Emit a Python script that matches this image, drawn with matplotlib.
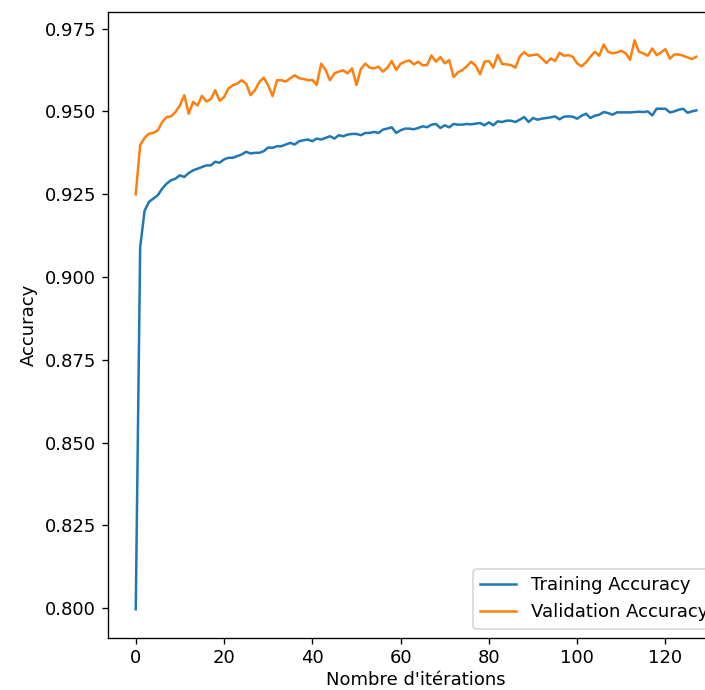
import matplotlib
matplotlib.use("Agg")
import matplotlib.pyplot as plt

plt.rcParams["font.size"] = 10.8

# accuracy per iteration
train_acc = [
    0.7997, 0.9090, 0.9200, 0.9227, 0.9237, 0.9247, 0.9267, 0.9282, 0.9292, 0.9297,
    0.9307, 0.9302, 0.9314, 0.9322, 0.9327, 0.9332, 0.9337, 0.9337, 0.9348, 0.9345,
    0.9355, 0.9360, 0.9360, 0.9365, 0.9370, 0.9378, 0.9373, 0.9375, 0.9375, 0.9380,
    0.9391, 0.9390, 0.9395, 0.9395, 0.9400, 0.9405, 0.9400, 0.9410, 0.9413, 0.9415,
    0.9410, 0.9418, 0.9415, 0.9420, 0.9425, 0.9418, 0.9428, 0.9425, 0.9430, 0.9432,
    0.9432, 0.9428, 0.9435, 0.9435, 0.9438, 0.9435, 0.9445, 0.9448, 0.9452, 0.9435,
    0.9443, 0.9448, 0.9448, 0.9446, 0.9450, 0.9455, 0.9452, 0.9460, 0.9462, 0.9450,
    0.9458, 0.9452, 0.9462, 0.9460, 0.9460, 0.9462, 0.9461, 0.9463, 0.9465, 0.9458,
    0.9467, 0.9458, 0.9470, 0.9468, 0.9472, 0.9472, 0.9468, 0.9475, 0.9483, 0.9468,
    0.9480, 0.9475, 0.9478, 0.9480, 0.9482, 0.9485, 0.9476, 0.9484, 0.9485, 0.9484,
    0.9478, 0.9487, 0.9493, 0.9480, 0.9487, 0.9490, 0.9498, 0.9495, 0.9490, 0.9497,
    0.9497, 0.9497, 0.9497, 0.9498, 0.9499, 0.9498, 0.9500, 0.9488, 0.9508, 0.9508,
    0.9508, 0.9497, 0.9500, 0.9505, 0.9508, 0.9496, 0.9500, 0.9503,
]

val_acc = [
    0.9250, 0.9398, 0.9420, 0.9433, 0.9435, 0.9443, 0.9468, 0.9483, 0.9485, 0.9498,
    0.9518, 0.9549, 0.9493, 0.9529, 0.9518, 0.9547, 0.9530, 0.9537, 0.9564, 0.9532,
    0.9543, 0.9569, 0.9579, 0.9584, 0.9594, 0.9584, 0.9549, 0.9564, 0.9589, 0.9602,
    0.9579, 0.9546, 0.9594, 0.9594, 0.9590, 0.9600, 0.9609, 0.9600, 0.9598, 0.9594,
    0.9595, 0.9580, 0.9644, 0.9625, 0.9594, 0.9615, 0.9620, 0.9624, 0.9615, 0.9630,
    0.9580, 0.9628, 0.9644, 0.9632, 0.9630, 0.9635, 0.9620, 0.9632, 0.9652, 0.9625,
    0.9644, 0.9650, 0.9654, 0.9642, 0.9650, 0.9639, 0.9640, 0.9669, 0.9650, 0.9664,
    0.9645, 0.9655, 0.9604, 0.9618, 0.9625, 0.9636, 0.9650, 0.9638, 0.9612, 0.9650,
    0.9652, 0.9632, 0.9671, 0.9643, 0.9642, 0.9640, 0.9632, 0.9666, 0.9679, 0.9668,
    0.9670, 0.9672, 0.9660, 0.9646, 0.9660, 0.9652, 0.9677, 0.9668, 0.9670, 0.9665,
    0.9645, 0.9636, 0.9648, 0.9665, 0.9680, 0.9668, 0.9702, 0.9680, 0.9675, 0.9678,
    0.9683, 0.9675, 0.9656, 0.9715, 0.9680, 0.9675, 0.9668, 0.9690, 0.9670, 0.9678,
    0.9688, 0.9659, 0.9672, 0.9672, 0.9668, 0.9663, 0.9658, 0.9665,
]

epochs = list(range(len(train_acc)))

fig = plt.figure(figsize=(705 / 120, 690 / 120), dpi=120)
# axes runs past the right edge of the figure, as in the cropped original
ax = fig.add_axes([0.1528, 0.0758, 0.8747, 0.9072])

ax.plot(epochs, train_acc, label="Training Accuracy")
ax.plot(epochs, val_acc, label="Validation Accuracy")
ax.set_xlabel("Nombre d'itérations", labelpad=2)
ax.set_ylabel("Accuracy")
ax.legend(loc="lower right")

fig.savefig("out.png", dpi=120)
